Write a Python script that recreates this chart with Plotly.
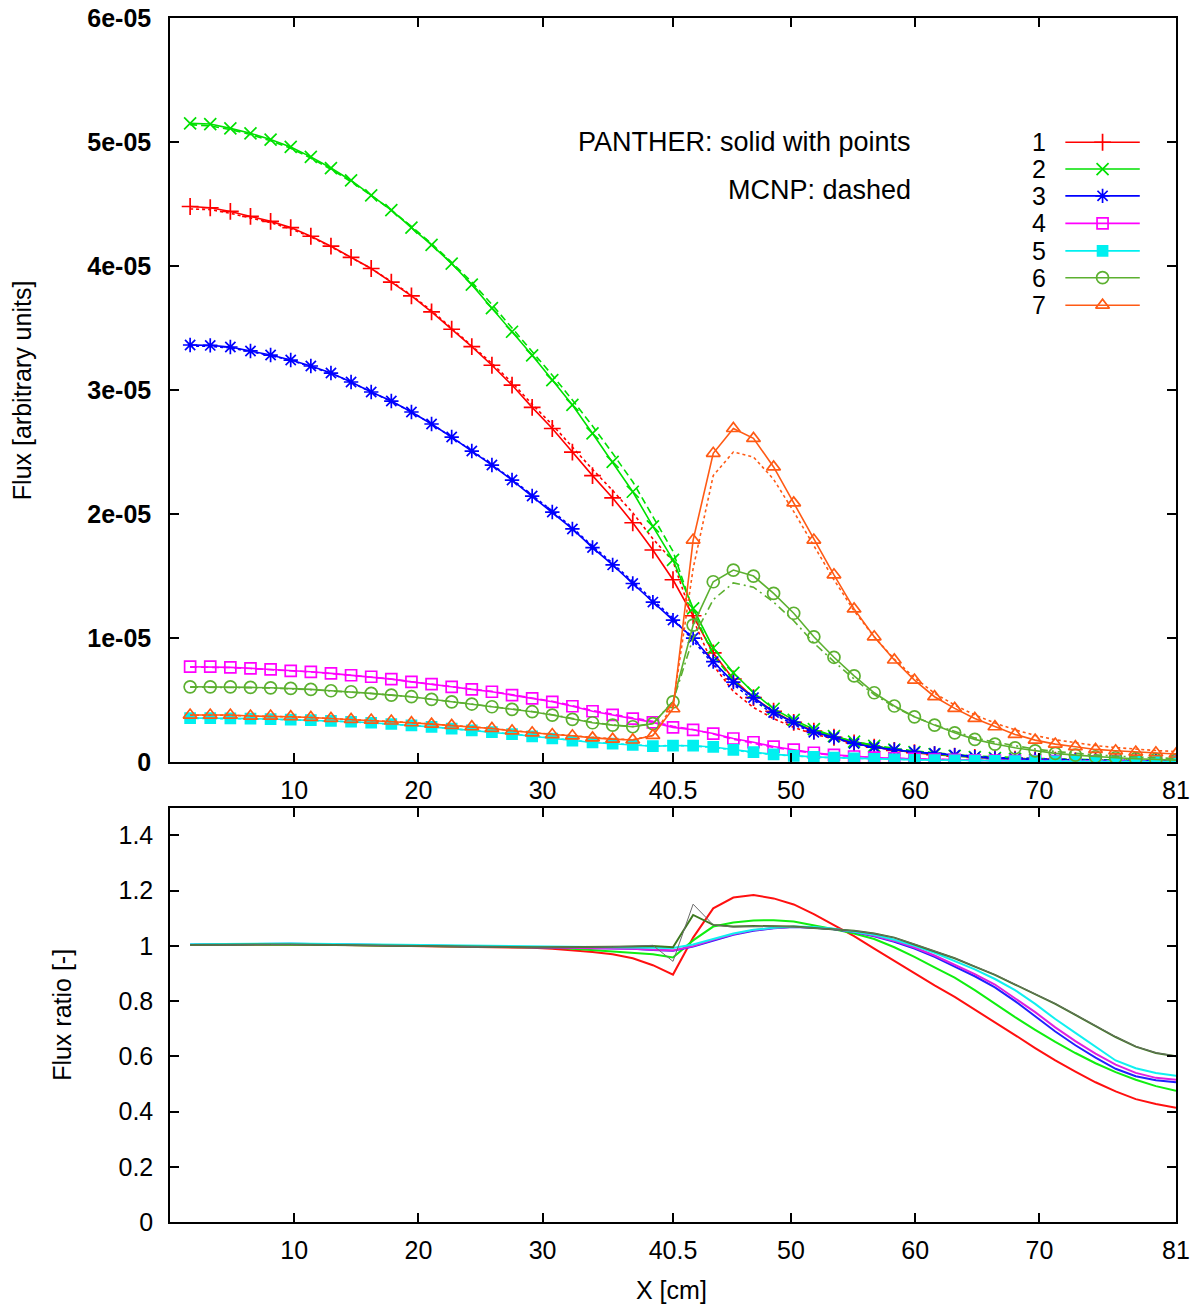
import plotly.graph_objects as go

# Mesh positions along the assembly [cm]
X_CM = [1.62, 3.24, 4.86, 6.48, 8.1, 9.72, 11.34, 12.96, 14.58, 16.2,
        17.82, 19.44, 21.06, 22.68, 24.3, 25.92, 27.54, 29.16, 30.78, 32.4,
        34.02, 35.64, 37.26, 38.88, 40.5, 42.12, 43.74, 45.36, 46.98, 48.6,
        50.22, 51.84, 53.46, 55.08, 56.7, 58.32, 59.94, 61.56, 63.18, 64.8,
        66.42, 68.04, 69.66, 71.28, 72.9, 74.52, 76.14, 77.76, 79.38, 81.0]

# Group fluxes in units of 1e-5 (PANTHER)
P1 = [4.48, 4.47, 4.44, 4.40, 4.36, 4.31, 4.24, 4.16, 4.07, 3.98,
      3.87, 3.76, 3.63, 3.49, 3.35, 3.20, 3.04, 2.86, 2.69, 2.50,
      2.31, 2.13, 1.93, 1.71, 1.47, 1.18, 0.88, 0.67, 0.52, 0.41,
      0.32, 0.25, 0.20, 0.155, 0.12, 0.095, 0.075, 0.06, 0.048, 0.038,
      0.03, 0.024, 0.019, 0.015, 0.012, 0.01, 0.008, 0.007, 0.006, 0.005]
P2 = [5.15, 5.145, 5.11, 5.07, 5.02, 4.96, 4.88, 4.79, 4.69, 4.57,
      4.45, 4.31, 4.17, 4.02, 3.85, 3.66, 3.47, 3.28, 3.08, 2.88,
      2.65, 2.42, 2.18, 1.90, 1.63, 1.24, 0.92, 0.72, 0.56, 0.43,
      0.34, 0.265, 0.21, 0.165, 0.13, 0.10, 0.08, 0.064, 0.05, 0.04,
      0.032, 0.026, 0.02, 0.016, 0.013, 0.01, 0.008, 0.007, 0.006, 0.005]
P3 = [3.363, 3.36, 3.347, 3.315, 3.282, 3.242, 3.194, 3.137, 3.065, 2.984,
      2.911, 2.823, 2.726, 2.621, 2.508, 2.395, 2.274, 2.145, 2.016, 1.88,
      1.73, 1.59, 1.44, 1.29, 1.145, 1.0, 0.81, 0.645, 0.52, 0.40,
      0.32, 0.24, 0.20, 0.15, 0.12, 0.10, 0.08, 0.07, 0.055, 0.04,
      0.03, 0.025, 0.021, 0.018, 0.015, 0.012, 0.01, 0.009, 0.008, 0.007]
P4 = [0.769, 0.769, 0.764, 0.756, 0.748, 0.736, 0.728, 0.715, 0.70, 0.688,
      0.669, 0.647, 0.629, 0.607, 0.586, 0.567, 0.54, 0.513, 0.486, 0.45,
      0.41, 0.38, 0.35, 0.32, 0.28, 0.26, 0.23, 0.19, 0.16, 0.125,
      0.10, 0.075, 0.058, 0.045, 0.036, 0.03, 0.025, 0.02, 0.017, 0.014,
      0.012, 0.01, 0.008, 0.007, 0.006, 0.005, 0.004, 0.004, 0.003, 0.003]
P5 = [0.355, 0.355, 0.353, 0.35, 0.347, 0.343, 0.338, 0.332, 0.325, 0.317,
      0.307, 0.296, 0.284, 0.27, 0.256, 0.241, 0.225, 0.208, 0.19, 0.172,
      0.158, 0.148, 0.138, 0.128, 0.133, 0.132, 0.122, 0.098, 0.08, 0.062,
      0.05, 0.042, 0.036, 0.03, 0.025, 0.021, 0.018, 0.015, 0.013, 0.011,
      0.009, 0.008, 0.007, 0.006, 0.005, 0.004, 0.004, 0.003, 0.003, 0.003]
P6 = [0.607, 0.607, 0.607, 0.602, 0.599, 0.594, 0.586, 0.575, 0.567, 0.554,
      0.54, 0.527, 0.506, 0.486, 0.468, 0.446, 0.425, 0.406, 0.379, 0.345,
      0.317, 0.298, 0.285, 0.31, 0.486, 1.105, 1.454, 1.548, 1.50, 1.36,
      1.20, 1.01, 0.845, 0.695, 0.559, 0.452, 0.365, 0.298, 0.236, 0.183,
      0.145, 0.115, 0.091, 0.07, 0.056, 0.043, 0.035, 0.027, 0.022, 0.016]
P7 = [0.379, 0.379, 0.379, 0.371, 0.371, 0.366, 0.36, 0.352, 0.344, 0.339,
      0.331, 0.317, 0.306, 0.296, 0.285, 0.271, 0.252, 0.236, 0.222, 0.212,
      0.195, 0.185, 0.178, 0.215, 0.43, 1.79, 2.49, 2.69, 2.61, 2.38,
      2.09, 1.79, 1.51, 1.235, 1.01, 0.823, 0.661, 0.527, 0.433, 0.352,
      0.285, 0.223, 0.177, 0.145, 0.124, 0.102, 0.091, 0.081, 0.075, 0.065]

# Group fluxes in units of 1e-5 (MCNP)
M1 = [4.46, 4.455, 4.425, 4.39, 4.35, 4.30, 4.235, 4.155, 4.07, 3.98,
      3.875, 3.765, 3.64, 3.50, 3.36, 3.215, 3.06, 2.885, 2.72, 2.54,
      2.36, 2.19, 2.01, 1.80, 1.62, 1.15, 0.78, 0.57, 0.44, 0.35,
      0.28, 0.225, 0.185, 0.15, 0.12, 0.098, 0.08, 0.066, 0.054, 0.044,
      0.036, 0.03, 0.025, 0.021, 0.018, 0.016, 0.014, 0.013, 0.012, 0.012]
M2 = [5.14, 5.13, 5.10, 5.06, 5.01, 4.95, 4.87, 4.78, 4.68, 4.57,
      4.45, 4.32, 4.18, 4.03, 3.87, 3.69, 3.50, 3.31, 3.12, 2.92,
      2.71, 2.49, 2.26, 1.98, 1.70, 1.22, 0.86, 0.66, 0.515, 0.40,
      0.32, 0.255, 0.205, 0.165, 0.135, 0.11, 0.09, 0.074, 0.06, 0.05,
      0.042, 0.035, 0.03, 0.025, 0.021, 0.018, 0.016, 0.014, 0.012, 0.011]
M3 = [3.355, 3.352, 3.34, 3.31, 3.278, 3.24, 3.19, 3.135, 3.063, 2.983,
      2.91, 2.823, 2.727, 2.623, 2.512, 2.4, 2.28, 2.152, 2.025, 1.89,
      1.742, 1.603, 1.455, 1.305, 1.16, 0.98, 0.79, 0.625, 0.5, 0.385,
      0.305, 0.235, 0.19, 0.148, 0.118, 0.098, 0.08, 0.068, 0.056, 0.045,
      0.037, 0.031, 0.026, 0.022, 0.019, 0.016, 0.014, 0.013, 0.012, 0.011]
M4 = [0.766, 0.766, 0.762, 0.754, 0.746, 0.735, 0.727, 0.714, 0.70, 0.688,
      0.67, 0.648, 0.63, 0.609, 0.588, 0.57, 0.543, 0.517, 0.49, 0.455,
      0.416, 0.386, 0.357, 0.328, 0.288, 0.262, 0.226, 0.184, 0.152, 0.118,
      0.094, 0.071, 0.055, 0.043, 0.035, 0.03, 0.025, 0.021, 0.018, 0.016,
      0.014, 0.012, 0.011, 0.01, 0.009, 0.008, 0.008, 0.007, 0.006, 0.006]
M5 = [0.353, 0.353, 0.351, 0.348, 0.345, 0.342, 0.337, 0.331, 0.324, 0.316,
      0.306, 0.296, 0.284, 0.271, 0.257, 0.242, 0.227, 0.21, 0.192, 0.175,
      0.16, 0.15, 0.14, 0.13, 0.134, 0.13, 0.118, 0.094, 0.076, 0.059,
      0.048, 0.04, 0.035, 0.03, 0.026, 0.022, 0.019, 0.017, 0.015, 0.013,
      0.011, 0.01, 0.009, 0.008, 0.007, 0.007, 0.006, 0.006, 0.006, 0.006]
M6 = [0.604, 0.604, 0.604, 0.6, 0.597, 0.592, 0.584, 0.574, 0.566, 0.553,
      0.54, 0.527, 0.507, 0.487, 0.469, 0.448, 0.427, 0.408, 0.382, 0.348,
      0.32, 0.3, 0.287, 0.31, 0.49, 1.0, 1.31, 1.445, 1.41, 1.29,
      1.14, 0.96, 0.81, 0.67, 0.545, 0.445, 0.365, 0.30, 0.245, 0.195,
      0.16, 0.13, 0.105, 0.085, 0.07, 0.058, 0.048, 0.04, 0.034, 0.028]
M7 = [0.377, 0.377, 0.377, 0.37, 0.37, 0.365, 0.359, 0.351, 0.344, 0.339,
      0.331, 0.318, 0.307, 0.297, 0.286, 0.272, 0.254, 0.238, 0.224, 0.213,
      0.197, 0.187, 0.18, 0.215, 0.455, 1.56, 2.31, 2.50, 2.46, 2.28,
      2.02, 1.74, 1.47, 1.22, 1.01, 0.83, 0.68, 0.555, 0.46, 0.38,
      0.315, 0.26, 0.215, 0.18, 0.155, 0.133, 0.117, 0.104, 0.093, 0.085]

# Flux ratios per group
R1 = [1.003, 1.004, 1.005, 1.006, 1.007, 1.006, 1.005, 1.004, 1.003, 1.003,
      1.002, 1.001, 1.0, 0.999, 0.998, 0.997, 0.995, 0.993, 0.99, 0.985,
      0.978, 0.97, 0.955, 0.93, 0.896, 1.03, 1.136, 1.175, 1.184, 1.172,
      1.15, 1.115, 1.075, 1.035, 0.99, 0.945, 0.9, 0.857, 0.815, 0.77,
      0.724, 0.677, 0.63, 0.585, 0.545, 0.506, 0.473, 0.445, 0.427, 0.414]
R2 = [1.003, 1.004, 1.005, 1.006, 1.006, 1.006, 1.005, 1.004, 1.003, 1.003,
      1.002, 1.001, 1.0, 0.999, 0.998, 0.997, 0.996, 0.995, 0.994, 0.99,
      0.985, 0.98, 0.975, 0.97, 0.958, 1.02, 1.07, 1.085, 1.092, 1.093,
      1.088, 1.075, 1.06, 1.045, 1.025, 0.995, 0.96, 0.922, 0.885, 0.84,
      0.79, 0.742, 0.696, 0.652, 0.612, 0.575, 0.543, 0.515, 0.492, 0.475]
R3 = [1.004, 1.005, 1.006, 1.007, 1.008, 1.008, 1.007, 1.006, 1.005, 1.004,
      1.003, 1.002, 1.001, 1.0, 0.999, 0.998, 0.997, 0.996, 0.995, 0.994,
      0.993, 0.992, 0.99, 0.985, 0.982, 0.998, 1.02, 1.04, 1.055, 1.064,
      1.068, 1.066, 1.06, 1.05, 1.035, 1.015, 0.99, 0.96, 0.925, 0.89,
      0.85, 0.80, 0.745, 0.69, 0.64, 0.595, 0.555, 0.528, 0.513, 0.506]
R4 = [1.004, 1.005, 1.006, 1.007, 1.008, 1.007, 1.006, 1.005, 1.004, 1.004,
      1.003, 1.002, 1.001, 1.0, 0.999, 0.998, 0.997, 0.996, 0.995, 0.994,
      0.993, 0.992, 0.99, 0.986, 0.983, 0.999, 1.022, 1.042, 1.057, 1.065,
      1.069, 1.067, 1.061, 1.051, 1.037, 1.018, 0.994, 0.965, 0.932, 0.898,
      0.86, 0.81, 0.76, 0.705, 0.655, 0.61, 0.57, 0.54, 0.522, 0.515]
R5 = [1.006, 1.007, 1.008, 1.009, 1.009, 1.009, 1.008, 1.007, 1.006, 1.005,
      1.004, 1.003, 1.002, 1.001, 1.0, 0.999, 0.998, 0.997, 0.996, 0.995,
      0.994, 0.993, 0.992, 0.992, 0.992, 1.005, 1.025, 1.045, 1.058, 1.066,
      1.07, 1.068, 1.062, 1.052, 1.04, 1.022, 1.0, 0.975, 0.945, 0.915,
      0.88, 0.84, 0.79, 0.735, 0.685, 0.635, 0.585, 0.557, 0.54, 0.53]
R6 = [1.003, 1.004, 1.004, 1.005, 1.005, 1.005, 1.004, 1.003, 1.002, 1.002,
      1.001, 1.0, 0.999, 0.998, 0.997, 0.996, 0.996, 0.995, 0.995, 0.995,
      0.996, 0.997, 0.998, 1.0, 0.995, 1.112, 1.076, 1.07, 1.072, 1.072,
      1.07, 1.065, 1.06, 1.055, 1.045, 1.03, 1.005, 0.98, 0.955, 0.925,
      0.895, 0.86, 0.825, 0.79, 0.75, 0.71, 0.67, 0.635, 0.612, 0.60]
R7 = [1.003, 1.004, 1.004, 1.005, 1.005, 1.005, 1.004, 1.003, 1.002, 1.002,
      1.001, 1.0, 0.999, 0.998, 0.997, 0.996, 0.996, 0.995, 0.995, 0.995,
      0.996, 0.997, 0.999, 1.002, 0.944, 1.151, 1.076, 1.068, 1.07, 1.071,
      1.069, 1.065, 1.06, 1.055, 1.045, 1.03, 1.006, 0.981, 0.956, 0.926,
      0.896, 0.861, 0.826, 0.791, 0.751, 0.711, 0.671, 0.636, 0.613, 0.601]

GROUPS = ["1", "2", "3", "4", "5", "6", "7"]
X_TICKS = [10, 20, 30, 40.5, 50, 60, 70, 81]
FLUX_TICKS = [0, 1, 2, 3, 4, 5, 6]
FLUX_TICK_TEXT = ["0", "1e-05", "2e-05", "3e-05", "4e-05", "5e-05", "6e-05"]
RATIO_TICKS = [0, 0.2, 0.4, 0.6, 0.8, 1, 1.2, 1.4]
RATIO_TICK_TEXT = ["0", "0.2", "0.4", "0.6", "0.8", "1", "1.2", "1.4"]
SCALE = 1e-5

panther = [P1, P2, P3, P4, P5, P6, P7]
mcnp = [M1, M2, M3, M4, M5, M6, M7]
ratios = [R1, R2, R3, R4, R5, R6, R7]

# Styling
COLORS = ["#ff0000", "#00e000", "#0000ff", "#ff00ff", "#00f0f0", "#5cb030", "#ff5a14"]
SYMBOLS = ["cross-thin-open", "x-thin-open", "asterisk-open", "square-open",
           "square", "circle-open", "triangle-up-open"]
SIZES = [12, 12, 12, 11, 10, 12, 12]
DASHES = ["3px,3px", "7px,4px", "3px,3px", "7px,4px", "3px,3px", "8px,4px,2px,4px", "3px,3px"]
RATIO_COLORS = ["#ff1010", "#10ee10", "#2020ff", "#e020e0", "#10f0f0", "#3f7a20", "#6a6a6a"]
RATIO_WIDTHS = [2, 2, 2, 2, 2, 2, 1]
FONT = "Liberation Sans"

fig = go.Figure()

for i, name in enumerate(GROUPS):
    c = COLORS[i]
    fig.add_trace(go.Scatter(
        x=X_CM, y=[v * SCALE for v in mcnp[i]], mode="lines",
        line=dict(color=c, width=1.6, dash=DASHES[i]),
        name=name + " MCNP", showlegend=False, xaxis="x", yaxis="y"))
    fig.add_trace(go.Scatter(
        x=X_CM, y=[v * SCALE for v in panther[i]], mode="lines+markers",
        line=dict(color=c, width=1.6),
        marker=dict(symbol=SYMBOLS[i], size=SIZES[i], color=c,
                    line=dict(color=c, width=1.7)),
        name=name, showlegend=False, xaxis="x", yaxis="y"))

for i, name in enumerate(GROUPS):
    fig.add_trace(go.Scatter(
        x=X_CM, y=ratios[i], mode="lines",
        line=dict(color=RATIO_COLORS[i], width=RATIO_WIDTHS[i]),
        name=name + " ratio", showlegend=False, xaxis="x2", yaxis="y2"))

# Key (drawn on a hidden unit overlay of the flux panel)
KEY_ROWS = [0.833, 0.797, 0.761, 0.724, 0.687, 0.651, 0.614]
KEY_X0, KEY_XM, KEY_X1, KEY_TEXT_X = 0.890, 0.927, 0.964, 0.873
annotations = []
for i, name in enumerate(GROUPS):
    c = COLORS[i]
    yk = KEY_ROWS[i]
    fig.add_trace(go.Scatter(
        x=[KEY_X0, KEY_X1], y=[yk, yk], mode="lines",
        line=dict(color=c, width=1.6), showlegend=False,
        hoverinfo="skip", xaxis="x3", yaxis="y3"))
    fig.add_trace(go.Scatter(
        x=[KEY_XM], y=[yk], mode="markers",
        marker=dict(symbol=SYMBOLS[i], size=SIZES[i], color=c,
                    line=dict(color=c, width=1.7)),
        showlegend=False, hoverinfo="skip", xaxis="x3", yaxis="y3"))
    annotations.append(dict(
        x=KEY_TEXT_X, y=yk, xref="x3", yref="y3", text=name, showarrow=False,
        xanchor="right", yanchor="middle", font=dict(family=FONT, size=25, color="black")))

annotations += [
    dict(x=0.7386, y=0.833, xref="x3", yref="y3", text="PANTHER: solid with points",
         showarrow=False, xanchor="right", yanchor="middle",
         font=dict(family=FONT, size=27, color="black")),
    dict(x=0.7386, y=0.769, xref="x3", yref="y3", text="MCNP: dashed",
         showarrow=False, xanchor="right", yanchor="middle",
         font=dict(family=FONT, size=27, color="black")),
    dict(x=-0.147, y=0.691, xref="paper", yref="paper", text="Flux [arbitrary units]",
         showarrow=False, textangle=-90, xanchor="center", yanchor="middle",
         font=dict(family=FONT, size=25, color="black")),
    dict(x=-0.1074, y=0.172, xref="paper", yref="paper", text="Flux ratio [-]",
         showarrow=False, textangle=-90, xanchor="center", yanchor="middle",
         font=dict(family=FONT, size=25, color="black")),
    dict(x=0.499, y=-0.0565, xref="paper", yref="paper", text="X [cm]",
         showarrow=False, xanchor="center", yanchor="middle",
         font=dict(family=FONT, size=25, color="black")),
]

TOP_DOMAIN = [0.382, 1.0]
BOTTOM_DOMAIN = [0.0, 0.344]

axis_common = dict(
    showline=True, linecolor="black", linewidth=1.5, mirror="ticks",
    ticks="inside", ticklen=9, tickwidth=1.5, tickcolor="black",
    showgrid=False, zeroline=False, automargin=False,
)
tick_font = dict(family=FONT, size=25, color="black")

fig.update_layout(
    width=1192, height=1308,
    margin=dict(l=170, r=16, t=18, b=86, autoexpand=False),
    paper_bgcolor="white", plot_bgcolor="white",
    showlegend=False,
    annotations=annotations,
    xaxis=dict(domain=[0, 1], anchor="y", range=[0, 81], tickvals=X_TICKS,
               ticktext=[str(t) for t in X_TICKS], ticklabelstandoff=5,
               tickfont=tick_font, **axis_common),
    yaxis=dict(domain=TOP_DOMAIN, anchor="x", range=[0, 6e-5],
               tickvals=[t * SCALE for t in FLUX_TICKS], ticktext=FLUX_TICK_TEXT,
               ticklabelstandoff=12,
               tickfont=dict(family=FONT, size=25, color="black", weight="bold"),
               **axis_common),
    xaxis2=dict(domain=[0, 1], anchor="y2", range=[0, 81], tickvals=X_TICKS,
                ticktext=[str(t) for t in X_TICKS], ticklabelstandoff=5,
                tickfont=tick_font, **axis_common),
    yaxis2=dict(domain=BOTTOM_DOMAIN, anchor="x2", range=[0, 1.5],
                tickvals=RATIO_TICKS, ticktext=RATIO_TICK_TEXT,
                ticklabelstandoff=10, tickfont=tick_font, **axis_common),
    xaxis3=dict(overlaying="x", range=[0, 1], visible=False, anchor="y3"),
    yaxis3=dict(overlaying="y", range=[0, 1], visible=False, anchor="x3"),
)

fig.write_html("out.html")
